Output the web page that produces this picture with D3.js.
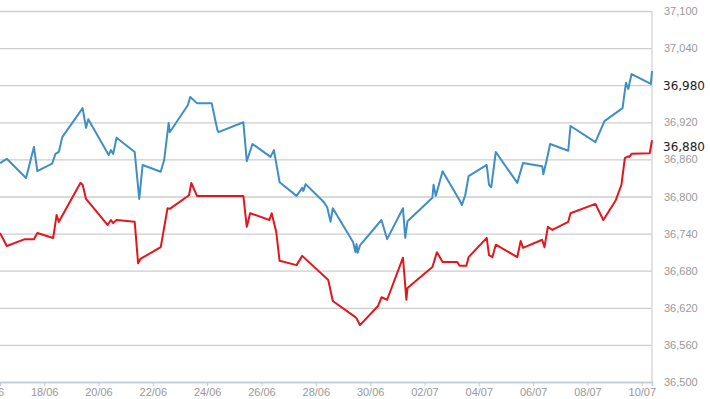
<!DOCTYPE html>
<html>
<head>
<meta charset="utf-8">
<script src="https://cdn.jsdelivr.net/npm/d3@7"></script>
<style>
  html, body { margin: 0; padding: 0; background: #fff; }
  svg { display: block; font-family: "DejaVu Sans", Verdana, sans-serif; }
</style>
</head>
<body>
<div id="chart"></div>
<script>
// tick labels
const xTickLabels = ['16/06', '18/06', '20/06', '22/06', '24/06', '26/06', '28/06', '30/06',
  '02/07', '04/07', '06/07', '08/07', '10/07'];
const yTickValues = [36500, 36560, 36620, 36680, 36740, 36800, 36860, 36920, 36980, 37040, 37100];
const lastLabels = [36980, 36880];

// blue series
const blueTimes = ['16/06 09:00', '16/06 15:00', '17/06 08:00', '17/06 15:00', '17/06 18:00',
  '18/06 07:00', '18/06 10:00', '18/06 13:00', '18/06 16:00', '19/06 10:00', '19/06 13:00',
  '19/06 15:00', '20/06 09:00', '20/06 11:00', '20/06 13:00', '20/06 16:00', '21/06 08:00',
  '21/06 12:00', '21/06 15:00', '22/06 07:00', '22/06 10:00', '22/06 14:00', '22/06 15:00',
  '23/06 07:00', '23/06 09:00', '23/06 15:00', '24/06 04:00', '24/06 09:00', '24/06 10:00',
  '25/06 08:00', '25/06 11:00', '25/06 16:00', '26/06 08:00', '26/06 11:00', '26/06 16:00',
  '27/06 07:00', '27/06 12:00', '27/06 13:00', '27/06 15:00', '28/06 07:00', '28/06 10:00',
  '28/06 13:00', '28/06 15:00', '29/06 09:00', '29/06 11:00', '29/06 12:00', '29/06 13:00',
  '29/06 15:00', '30/06 10:00', '30/06 15:00', '01/07 05:00', '01/07 07:00', '01/07 09:00',
  '02/07 07:00', '02/07 08:00', '02/07 10:00', '02/07 16:00', '03/07 07:00', '03/07 09:00',
  '03/07 12:00', '03/07 15:00', '04/07 07:00', '04/07 09:00', '04/07 11:00', '04/07 15:00',
  '05/07 10:00', '05/07 15:00', '06/07 08:00', '06/07 09:00', '06/07 12:00', '06/07 15:00',
  '07/07 07:00', '07/07 09:00', '08/07 07:00', '08/07 15:00', '09/07 07:00', '09/07 10:00',
  '09/07 12:00', '09/07 15:00', '10/07 08:00', '10/07 09:00'];
const blueValues = [36854, 36861, 36830, 36880, 36841,
  36853, 36869, 36872, 36896, 36943, 36911,
  36925, 36867, 36875, 36869, 36895, 36872,
  36796, 36851, 36840, 36859, 36919, 36904,
  36948, 36961, 36951, 36951, 36908, 36904,
  36920, 36857, 36885, 36864, 36875, 36823,
  36801, 36814, 36809, 36820, 36791, 36783,
  36759, 36781, 36726, 36710, 36723, 36709,
  36721, 36762, 36731, 36781, 36733, 36760,
  36798, 36819, 36801, 36841, 36794, 36786,
  36802, 36833, 36851, 36819, 36815, 36872,
  36822, 36854, 36849, 36836, 36859, 36885,
  36874, 36914, 36888, 36922, 36943, 36984,
  36974, 36998, 36982, 37003];

// red series
const redTimes = ['16/06 09:00', '16/06 15:00', '17/06 07:00', '17/06 15:00', '17/06 18:00',
  '18/06 08:00', '18/06 11:00', '18/06 13:00', '19/06 08:00', '19/06 10:00', '19/06 13:00',
  '20/06 08:00', '20/06 11:00', '20/06 13:00', '20/06 16:00', '21/06 08:00', '21/06 11:00',
  '21/06 13:00', '22/06 07:00', '22/06 13:00', '22/06 15:00', '23/06 08:00', '23/06 10:00',
  '23/06 15:00', '25/06 08:00', '25/06 11:00', '25/06 14:00', '26/06 07:00', '26/06 09:00',
  '26/06 13:00', '26/06 16:00', '27/06 07:00', '27/06 12:00', '28/06 11:00', '28/06 15:00',
  '29/06 11:00', '29/06 12:00', '29/06 15:00', '30/06 07:00', '30/06 10:00', '30/06 15:00',
  '01/07 05:00', '01/07 08:00', '01/07 09:00', '02/07 07:00', '02/07 11:00', '02/07 16:00',
  '03/07 05:00', '03/07 07:00', '03/07 13:00', '03/07 15:00', '04/07 07:00', '04/07 09:00',
  '04/07 12:00', '04/07 15:00', '05/07 10:00', '05/07 13:00', '05/07 15:00', '06/07 08:00',
  '06/07 10:00', '06/07 13:00', '06/07 17:00', '07/07 07:00', '07/07 09:00', '08/07 07:00',
  '08/07 14:00', '09/07 01:00', '09/07 06:00', '09/07 09:00', '09/07 12:00', '09/07 13:00',
  '09/07 15:00', '10/07 07:00', '10/07 09:00'];
const redValues = [36741, 36720, 36731, 36731, 36741,
  36733, 36770, 36759, 36822, 36819, 36796,
  36754, 36762, 36757, 36762, 36759, 36692,
  36699, 36718, 36781, 36780, 36802, 36822,
  36801, 36801, 36751, 36773, 36762, 36773,
  36743, 36696, 36689, 36704, 36665, 36631,
  36605, 36603, 36592, 36623, 36637, 36633,
  36701, 36633, 36652, 36686, 36710, 36694,
  36694, 36688, 36688, 36702, 36733, 36705,
  36702, 36722, 36702, 36728, 36717, 36730,
  36718, 36751, 36746, 36759, 36773, 36788,
  36762, 36794, 36819, 36862, 36865, 36864,
  36869, 36870, 36891];

const parseTime = d3.timeParse('%d/%m %H:%M');
const parseDay = d3.timeParse('%d/%m');

function toSeries(times, values) {
  return times.map((t, i) => ({ date: parseTime(t), value: values[i] }));
}

const series = [
  { name: 'blue', color: '#3f8fc6', points: toSeries(blueTimes, blueValues) },
  { name: 'red', color: '#e3161d', points: toSeries(redTimes, redValues) },
];

function drawChart() {
  const width = 710;
  const height = 399;
  const margin = { top: 11, right: 58, bottom: 17, left: 0 };
  const plotRight = width - margin.right;
  const plotBottom = height - margin.bottom;

  const svg = d3.select('#chart')
    .append('svg')
    .attr('width', width)
    .attr('height', height);

  const xScale = d3.scaleTime()
    .domain([parseTime('16/06 09:00'), parseTime('10/07 09:00')])
    .range([margin.left, plotRight]);

  const yScale = d3.scaleLinear()
    .domain([36500, 37100])
    .range([plotBottom, margin.top]);

  // horizontal gridlines + right side labels
  const yAxis = d3.axisRight(yScale)
    .tickValues(yTickValues)
    .tickSize(-(plotRight - margin.left))
    .tickPadding(12)
    .tickFormat(d3.format(','));

  const yg = svg.append('g')
    .attr('transform', `translate(${plotRight},0)`)
    .call(yAxis);
  yg.select('.domain').remove();
  yg.selectAll('.tick line').attr('stroke', '#cdcdcd').attr('stroke-width', 1.3);
  yg.selectAll('.tick text')
    .attr('fill', '#999')
    .style('font-size', '11px')
    .text((d) => (lastLabels.includes(d) ? '' : d3.format(',')(d)));

  // right border
  svg.append('line')
    .attr('x1', plotRight).attr('x2', plotRight)
    .attr('y1', margin.top).attr('y2', plotBottom)
    .attr('stroke', '#d8d8d8')
    .attr('stroke-width', 1.5);

  // bottom axis
  const xAxis = d3.axisBottom(xScale)
    .tickValues(xTickLabels.map((d) => parseDay(d)))
    .tickFormat(d3.timeFormat('%d/%m'))
    .tickSize(4)
    .tickPadding(2);

  const xg = svg.append('g')
    .attr('transform', `translate(0,${plotBottom})`)
    .call(xAxis);
  xg.select('.domain').attr('stroke', '#c0ccd8').attr('stroke-width', 1.5);
  xg.selectAll('.tick line').attr('stroke', '#c0ccd8');
  xg.selectAll('.tick text').attr('fill', '#999').style('font-size', '11px');

  // lines
  const line = d3.line()
    .x((d) => xScale(d.date))
    .y((d) => yScale(d.value));

  svg.append('g')
    .selectAll('path')
    .data(series)
    .join('path')
    .attr('fill', 'none')
    .attr('stroke', (d) => d.color)
    .attr('stroke-width', 2)
    .attr('stroke-linejoin', 'round')
    .attr('d', (d) => line(d.points));

  // last value labels
  svg.append('g')
    .selectAll('text')
    .data(lastLabels)
    .join('text')
    .attr('x', plotRight + 11)
    .attr('y', (d) => yScale(d))
    .attr('dy', '0.36em')
    .attr('fill', '#222')
    .style('font-size', '12px')
    .text((d) => d3.format(',')(d));
}

drawChart();
</script>
</body>
</html>
